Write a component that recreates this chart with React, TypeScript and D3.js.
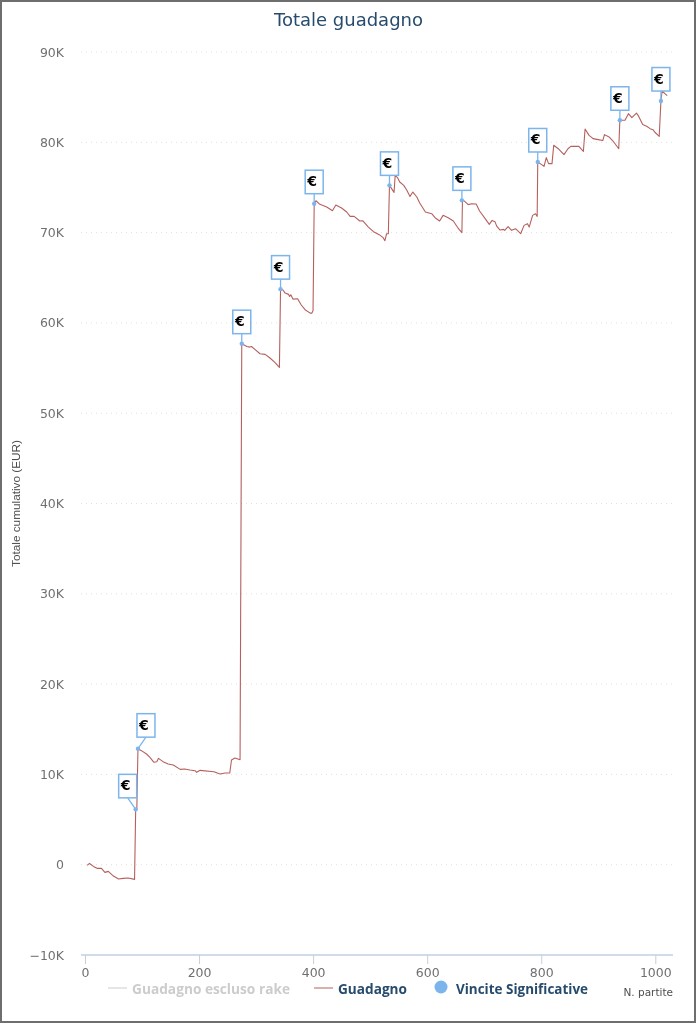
import React from 'react';
import * as d3 from 'd3';

// game number / cumulative total (EUR)
const games = [
  3, 7, 14, 21, 28, 34, 40, 49, 58, 66, 75, 86, 88, 90, 92, 98, 107, 113, 120, 125, 128, 136, 145, 154, 166, 174, 183, 192, 195, 201, 225, 236, 245, 253, 256, 262, 271,
  274, 283, 288, 291, 297, 306, 315, 323, 332, 340, 342, 346, 350, 356, 358, 360, 364, 372, 378, 385, 394, 397, 399,
  401, 404, 411, 423, 433, 439, 449, 458, 464, 471, 481, 486, 496, 505, 515, 522, 525, 528, 531,
  533, 535, 541, 543, 547, 551, 558, 563, 569, 574, 581, 586, 596, 607, 613, 621, 627, 636, 645, 654, 660,
  661, 665, 671, 677, 685, 691, 703, 708, 713, 718, 721, 727, 733, 735, 741, 747, 754, 763, 769, 775, 778, 784, 789, 792,
  793, 800, 804, 808, 812, 818, 821, 829, 839, 846, 851, 857, 865, 873, 876, 883, 890, 899, 907, 910, 918, 925, 935,
  937, 946, 952, 958, 966, 969, 977, 984, 990, 995, 998, 1006, 1009, 1011, 1016, 1020,
];
const totals = [
  -70, 140, -190, -410, -410, -850, -740, -1260, -1590, -1510, -1480, -1625, 6130, 6130, 12850, 12630, 12260, 11890, 11340, 11410, 11780, 11410, 11150, 11040, 10560, 10600, 10490, 10410, 10230, 10450, 10300, 10050, 10160, 10160, 11600, 11820, 11630,
  57700, 57390, 57320, 57390, 57060, 56580, 56510, 56140, 55620, 55070, 63740, 63670, 63300, 63160, 62930, 63120, 62630, 62680, 62010, 61460, 61080, 61080, 61380,
  73200, 73530, 73130, 72830, 72420, 73050, 72720, 72280, 71800, 71800, 71280, 71320, 70610, 70100, 69770, 69440, 69100, 69880, 69880,
  75230, 75040, 74450, 76340, 76090, 75600, 75230, 74750, 74010, 74490, 73940, 73270, 72280, 72090, 71650, 71280, 71910, 71650, 71280, 70430, 69990,
  73570, 73460, 73100, 73200, 73170, 72390, 71350, 70910, 71350, 71210, 70720, 70280, 70360, 70250, 70660, 70250, 70430, 69880, 70800, 70990, 70610, 71910, 72090, 71800,
  77820, 77530, 77340, 78300, 77640, 77640, 79670, 79290, 78630, 79290, 79550, 79550, 79550, 78990, 81470, 80770, 80410, 80300, 80190, 80850, 80590, 80140, 79290,
  82440, 82440, 83170, 82730, 83240, 82990, 81960, 81770, 81510, 81400, 81140, 80660, 84570, 85680, 85390, 85170,
];

const winGames = [88, 92, 274, 342, 401, 533, 660, 793, 937, 1009];
const winTotals = [6130, 12850, 57700, 63740, 73200, 75230, 73570, 77820, 82440, 84570];
// flags 1 and 2 got pushed sideways so they do not overlap
const flagShift = [-8, 8, 0, 0, 0, 0, 0, 0, 0, 0];

const xTicks = [0, 200, 400, 600, 800, 1000];
const yTicks = [-10000, 0, 10000, 20000, 30000, 40000, 50000, 60000, 70000, 80000, 90000];

const font = '"DejaVu Sans", sans-serif';
const legendFont = '"Open Sans", sans-serif';

const App: React.FC = () => {
  const x = d3.scaleLinear().domain([0, 1000]).range([85.5, 655.8]);
  const y = d3.scaleLinear().domain([-10000, 90000]).range([955, 52]);

  const line = d3.line<number>()
    .x(d => x(d))
    .y((_, i) => y(totals[i]));

  const yFormat = (d: number) => (d === 0 ? '0' : `${d < 0 ? '\u2212' : ''}${Math.abs(d) / 1000}K`);

  return (
    <svg
      width={697}
      height={1024}
      style={{ position: 'fixed', left: 0, top: 0, background: '#fff' }}
      fontFamily={font}
    >
      <rect x={1} y={1} width={694} height={1021} fill="#fff" stroke="#6e6e6e" strokeWidth={2} />

      <g style={{ filter: 'blur(0.3px)' }}>
        <text x={348.5} y={26} textAnchor="middle" fontSize={18} fill="#274b6d">Totale guadagno</text>

        {/* grid */}
        {yTicks.filter(d => d > -10000).map(d => (
          <line key={d} x1={81} x2={673} y1={y(d)} y2={y(d)} stroke="#e0e0e0" strokeDasharray="1 4" />
        ))}
        {yTicks.map(d => (
          <text key={d} x={64} y={y(d) + 4.5} textAnchor="end" fontSize={12.5} fill="#707070">{yFormat(d)}</text>
        ))}

        {/* x axis */}
        <line x1={81} x2={673} y1={955} y2={955} stroke="#c0d0e0" strokeWidth={1.5} />
        {xTicks.map(d => (
          <g key={d}>
            <line x1={x(d)} x2={x(d)} y1={955} y2={964} stroke="#c0d0e0" />
            <text x={x(d)} y={977} textAnchor="middle" fontSize={12.5} fill="#707070">{d}</text>
          </g>
        ))}

        <text
          transform="translate(20,567) rotate(-90)"
          fontFamily='"Liberation Sans", sans-serif'
          fontSize={11.5}
          fill="#4d4d4d"
          textLength={127}
          lengthAdjust="spacingAndGlyphs"
        >
          Totale cumulativo (EUR)
        </text>
        <text x={673} y={996} textAnchor="end" fontSize={10.5} fill="#4d4d4d">N. partite</text>

        {/* series */}
        <path d={line(games) ?? ''} fill="none" stroke="#b5605d" strokeWidth={1.1} strokeLinejoin="round" />

        {/* flags */}
        {winGames.map((g, i) => {
          const px = x(g);
          const py = y(winTotals[i]);
          const cx = px + flagShift[i];
          const bottom = py - (flagShift[i] ? 11.5 : 10);
          return (
            <g key={g}>
              <line x1={cx} x2={px} y1={bottom} y2={py} stroke="#7cb5ec" strokeWidth={1.3} />
              <circle cx={px} cy={py} r={2.2} fill="#7cb5ec" />
              <rect x={cx - 9} y={bottom - 23.5} width={18} height={23.5} fill="#fff" stroke="#7cb5ec" strokeWidth={1.5} />
              <text x={cx - 2} y={bottom - 7.5} textAnchor="middle" fontSize={14} fontWeight="bold" fill="#000">€</text>
            </g>
          );
        })}

        {/* legend */}
        <g fontSize={13.5} fontWeight="bold" fontFamily={legendFont}>
          <line x1={108} x2={127} y1={988} y2={988} stroke="#ccc" />
          <text x={132} y={994} fill="#ccc" textLength={158} lengthAdjust="spacingAndGlyphs">Guadagno escluso rake</text>
          <line x1={314} x2={333} y1={988} y2={988} stroke="#b5605d" />
          <text x={338} y={994} fill="#274b6d" textLength={69} lengthAdjust="spacingAndGlyphs">Guadagno</text>
          <circle cx={441} cy={987} r={6.5} fill="#7cb5ec" />
          <text x={456} y={994} fill="#274b6d" textLength={132} lengthAdjust="spacingAndGlyphs">Vincite Significative</text>
        </g>
      </g>
    </svg>
  );
};

export default App;
